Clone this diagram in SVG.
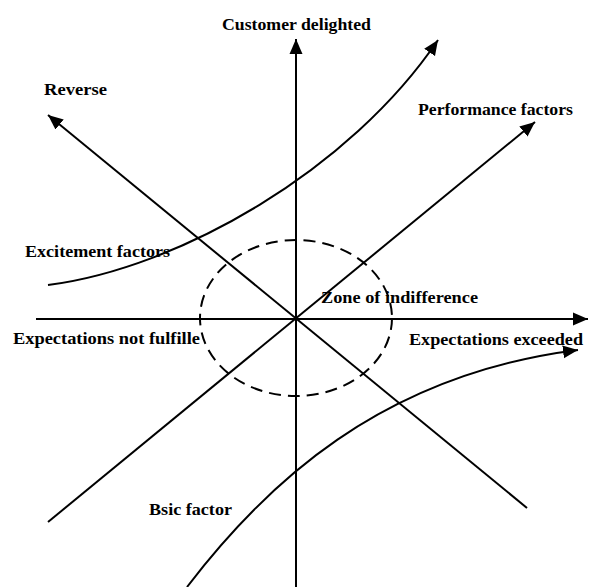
<svg xmlns="http://www.w3.org/2000/svg" width="591" height="587" viewBox="0 0 591 587">
  <defs>
    <marker id="arrow" markerWidth="16" markerHeight="14" refX="15" refY="7" orient="auto" markerUnits="userSpaceOnUse">
      <path d="M0,0.5 L15,7 L0,13.5 z" fill="#000"/>
    </marker>
    <style>
      .ln { fill: none; stroke: #000; stroke-width: 2; }
      .dash { fill: none; stroke: #000; stroke-width: 2; stroke-dasharray: 12 7; }
      .lbl { font-family: "Liberation Serif", "Times New Roman", serif; font-size: 16px; font-weight: bold; fill: #000; }
    </style>
  </defs>
  <rect width="591" height="587" fill="#fff"/>

  <!-- axes, factor lines and curves -->
  <g id="connectors">
    <line id="axis-y" class="ln" x1="296" y1="587" x2="296" y2="39" marker-end="url(#arrow)"/>
    <line id="axis-x" class="ln" x1="36" y1="319" x2="588" y2="319" marker-end="url(#arrow)"/>
    <line id="reverse-line" class="ln" x1="527" y1="508" x2="48" y2="115" marker-end="url(#arrow)"/>
    <line id="performance-line" class="ln" x1="48" y1="522" x2="535" y2="122" marker-end="url(#arrow)"/>
    <path id="excitement-curve" class="ln" d="M48,285 C180,268 350,170 438,40" marker-end="url(#arrow)"/>
    <path id="basic-curve" class="ln" d="M187,587 C265,485 380,375 578,350" marker-end="url(#arrow)"/>
  </g>

  <!-- zone of indifference -->
  <g id="zone">
    <ellipse class="dash" cx="296" cy="318" rx="96" ry="78"/>
    <text class="lbl" x="321" y="303" textLength="157" lengthAdjust="spacingAndGlyphs">Zone of indifference</text>
  </g>

  <g id="label-customer-delighted">
    <text class="lbl" x="222" y="30" textLength="149" lengthAdjust="spacingAndGlyphs">Customer delighted</text>
  </g>
  <g id="label-reverse">
    <text class="lbl" x="44" y="95" textLength="63" lengthAdjust="spacingAndGlyphs">Reverse</text>
  </g>
  <g id="label-performance">
    <text class="lbl" x="418" y="115" textLength="155" lengthAdjust="spacingAndGlyphs">Performance factors</text>
  </g>
  <g id="label-excitement">
    <text class="lbl" x="25" y="257" textLength="145" lengthAdjust="spacingAndGlyphs">Excitement factors</text>
  </g>
  <g id="label-not-fulfilled">
    <text class="lbl" x="13" y="344" textLength="187" lengthAdjust="spacingAndGlyphs">Expectations not fulfille</text>
  </g>
  <g id="label-exceeded">
    <text class="lbl" x="409" y="345" textLength="174" lengthAdjust="spacingAndGlyphs">Expectations exceeded</text>
  </g>
  <g id="label-basic">
    <text class="lbl" x="149" y="515" textLength="83" lengthAdjust="spacingAndGlyphs">Bsic factor</text>
  </g>
</svg>
